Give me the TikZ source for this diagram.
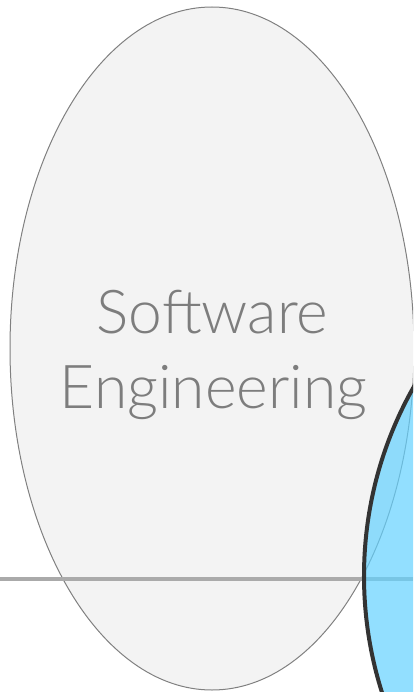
\documentclass[tikz,border=0pt]{standalone}
\usepackage{fontspec}
\setmainfont{Lato}[UprightFont={* Light}]
\usepackage{tikz}
\usepackage{xcolor}

\definecolor{sefill}{HTML}{F3F3F3}
\definecolor{seline}{HTML}{808080}
\definecolor{setext}{HTML}{7D7D7D}
\definecolor{bluefill}{HTML}{64D2FF}
\definecolor{blueline}{HTML}{333333}
\definecolor{axisline}{HTML}{AAAAAA}

\tikzset{
  label/.style={text=setext, font=\fontsize{60.5}{75}\selectfont, inner sep=0pt, anchor=base}
}

\begin{document}
\begin{tikzpicture}[x=1pt, y=-1pt]
\useasboundingbox (0,0) rectangle (413,692);
\clip (0,0) rectangle (413,692);

% Software engineering area
\coordinate (secenter) at (212,348.5);
\draw[fill=sefill, draw=seline, line width=1pt] (secenter) ellipse [x radius=202pt, y radius=341.5pt];
\node[label] (sw) at (212.5,333) {Software};
\node[label] (eng) at (213.5,408) {Engineering};

% Horizontal line
\coordinate (axl) at (0,578.5);
\coordinate (axr) at (413,578.5);
\draw[axisline, line width=4pt] (axl) -- (axr);

% Blue area
\coordinate (bluecenter) at (748,576);
\draw[fill=bluefill, fill opacity=0.7, draw=blueline, line width=4pt] (bluecenter) circle [radius=384pt];
\end{tikzpicture}
\end{document}
